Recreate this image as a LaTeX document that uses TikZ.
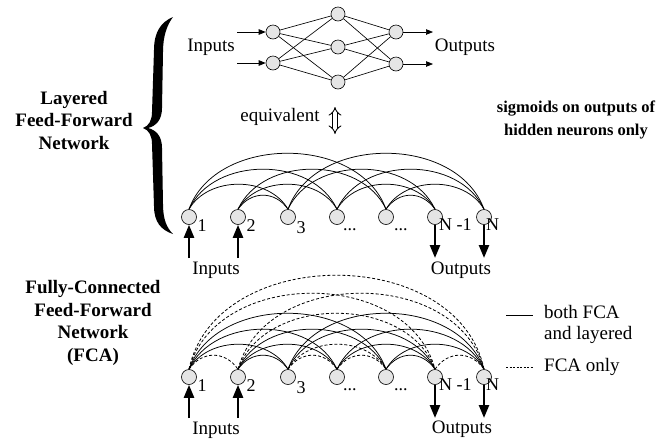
\documentclass[tikz,border=0pt]{standalone}
\usepackage{fontspec}
\setmainfont{Liberation Serif}
\usetikzlibrary{arrows.meta}
\newcommand\arcconn[4]{%
  \pgfmathtruncatemacro\dd{#3-#2}%
  \pgfmathsetmacro\th{{55,60,65,70,75,78}[\dd-1]}%
  \pgfmathsetmacro\thb{180-\th}%
  \pgfmathsetmacro\LL{{22.8,38.5,58.9,79.4,104.9,128.1}[\dd-1]}%
  \draw[#4] (#1#2.north) .. controls +(\th:\LL) and +(\thb:\LL) .. (#1#3.north);%
}
\begin{document}
\begin{tikzpicture}[x=1pt,y=1pt,
  neuron/.style={circle, draw, line width=0.6pt, fill=black!10, minimum size=14pt, inner sep=0pt},
  bigneuron/.style={neuron, minimum size=15pt},
  txt/.style={font=\fontsize{19}{22.5}\selectfont, inner sep=0pt},
  btxt/.style={font=\fontsize{19}{22.5}\selectfont\bfseries, inner sep=0pt, align=center},
  numlbl/.style={font=\fontsize{18}{20}\selectfont, inner sep=0pt, anchor=base west},
  wire/.style={line width=0.65pt},
  arcsolid/.style={line width=0.75pt},
  arcdash/.style={line width=0.8pt, dash pattern=on 3pt off 2pt},
  smallarrow/.style={line width=0.7pt, -{Triangle[length=7pt,width=5.5pt]}},
  bigarrow/.style={line width=2.4pt, -{Triangle[length=13pt,width=10pt]}},
]
\useasboundingbox (0,0) rectangle (672,-440);

% ---------- top layered network ----------
\node[neuron] (i1) at (273,-32) {};
\node[neuron] (i2) at (273,-63) {};
\node[neuron] (h1) at (338,-14) {};
\node[neuron] (h2) at (338,-47) {};
\node[neuron] (h3) at (338,-82) {};
\node[neuron] (o1) at (396,-32) {};
\node[neuron] (o2) at (396,-64) {};
\foreach \a in {i1,i2} \foreach \b in {h1,h2,h3} \draw[wire] (\a) -- (\b);
\foreach \a in {h1,h2,h3} \foreach \b in {o1,o2} \draw[wire] (\a) -- (\b);
\coordinate (ti1) at (237,-32);
\coordinate (ti2) at (237,-63);
\coordinate (to1) at (433,-32);
\coordinate (to2) at (433,-64);
\draw[smallarrow] (ti1) -- (i1);
\draw[smallarrow] (ti2) -- (i2);
\draw[smallarrow] (o1) -- (to1);
\draw[smallarrow] (o2) -- (to2);
\node[txt] (tin) at (211,-47) {Inputs};
\node[txt] (tout) at (465,-47) {Outputs};

% ---------- equivalence ----------
\node[txt] (eq) at (280,-117) {equivalent};
\coordinate (eqa) at (335,-107);
\coordinate (eqb) at (335,-134);
\draw[double, double distance=3.6pt, line width=0.9pt, {Implies}-{Implies}] (eqa) -- (eqb);

\node[font=\fontsize{16.5}{22.5}\selectfont\bfseries, inner sep=0pt, align=center] (sig) at (576,-120)
  {sigmoids on outputs of\\hidden neurons only};

% ---------- brace ----------
\fill (173,-17) .. controls (161,-22) and (154,-32) .. (154,-50) -- (152,-112)
  .. controls (152,-120) and (149,-126) .. (143,-128)
  .. controls (149,-130) and (152,-136) .. (152,-144) -- (154,-206)
  .. controls (154,-222) and (161,-230) .. (173,-234)
  .. controls (167,-228) and (163,-220) .. (163,-204) -- (162,-148)
  .. controls (162,-136) and (156,-130) .. (148,-128)
  .. controls (156,-126) and (162,-120) .. (162,-108) -- (163,-52)
  .. controls (163,-36) and (167,-25) .. (173,-17) -- cycle;
\node[btxt] (lay) at (74,-120) {Layered\\Feed-Forward\\Network};
\node[btxt] (fca) at (93,-323) {Fully-Connected\\Feed-Forward\\Network\\(FCA)};

% ---------- two rows of neurons ----------
\foreach \r/\y in {m/217, f/377}{
  \foreach \k/\x in {1/189,2/238,3/288,4/337,5/386,6/435,7/484}
    \node[bigneuron] (\r\k) at (\x,-\y) {};
  \path (\r1) ++(8.5,-14) node[numlbl] {1};
  \path (\r2) ++(8.5,-14) node[numlbl] {2};
  \path (\r3) ++(8.5,-16) node[numlbl] {3};
  \path (\r4) ++(6,-13) node[numlbl] {...};
  \path (\r5) ++(8,-13) node[numlbl] {...};
  \path (\r6) ++(4,-13) node[numlbl] {N -1};
  \path (\r7) ++(2,-13) node[numlbl] {N};
  \coordinate (\r in1) at (189,-\y-41);
  \coordinate (\r in2) at (238,-\y-41);
  \coordinate (\r out1) at (435,-\y-41);
  \coordinate (\r out2) at (484,-\y-41);
  \draw[bigarrow] (\r in1) -- (\r1);
  \draw[bigarrow] (\r in2) -- (\r2);
  \draw[bigarrow] (\r6) -- (\r out1);
  \draw[bigarrow] (\r7) -- (\r out2);
}
\node[txt] (minl) at (216,-270) {Inputs};
\node[txt] (moutl) at (461,-270) {Outputs};
\node[txt] (finl) at (216,-430) {Inputs};
\node[txt] (foutl) at (462,-429) {Outputs};

% ---------- arcs ----------
\foreach \a/\b in {1/3,1/4,1/5,2/3,2/4,2/5,3/6,3/7,4/6,4/7,5/6,5/7}{
  \arcconn{m}{\a}{\b}{arcsolid}
  \arcconn{f}{\a}{\b}{arcsolid}
}
\foreach \a/\b in {1/2,1/6,1/7,2/6,2/7,3/4,3/5,4/5,6/7}{
  \arcconn{f}{\a}{\b}{arcdash}
}

% ---------- legend ----------
\coordinate (ls1) at (506,-315);
\coordinate (ls2) at (533,-315);
\coordinate (ld1) at (506,-367);
\coordinate (ld2) at (533,-367);
\draw[line width=0.7pt] (ls1) -- (ls2);
\draw[line width=0.7pt, dash pattern=on 2pt off 1.5pt] (ld1) -- (ld2);
\node[txt, anchor=north west, align=left, font=\fontsize{19}{21}\selectfont] (leg1) at (544,-305) {both FCA\\and layered};
\node[txt, anchor=west] (leg2) at (544,-367) {FCA only};
\end{tikzpicture}
\end{document}
